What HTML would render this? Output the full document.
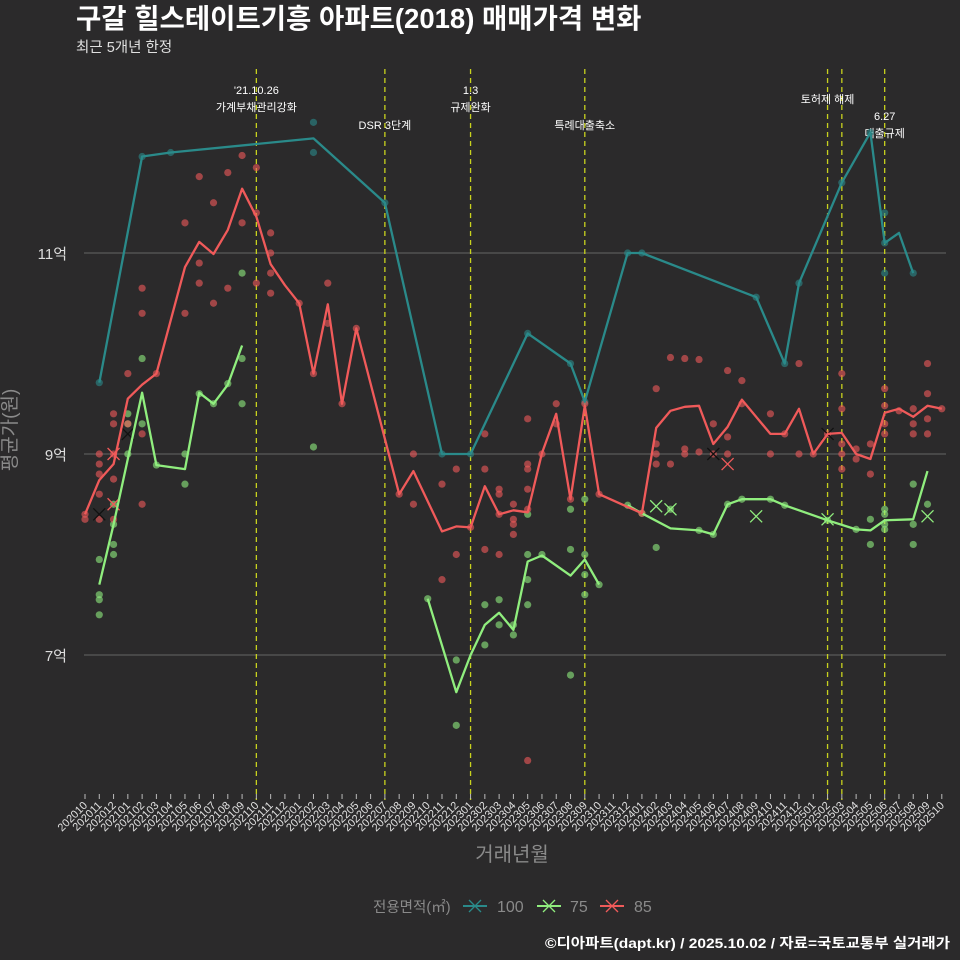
<!DOCTYPE html>
<html><head><meta charset="utf-8"><style>
html,body{margin:0;padding:0;background:#2b2a2b;}
svg{display:block;font-family:"Liberation Sans","Noto Sans CJK KR",sans-serif;}
</style></head><body>
<svg id="chart" width="960" height="960" viewBox="0 0 960 960">
<rect x="0" y="0" width="960" height="960" fill="#2b2a2b"/>
<text x="76" y="28" font-size="27.5" font-weight="bold" fill="#ffffff">구갈 힐스테이트기흥 아파트(2018) 매매가격 변화</text>
<text x="76" y="52" font-size="14.5" fill="#e0e0e0">최근 5개년 한정</text>
<g id="grid"></g>
<g id="vlines"></g>
<g id="dots"></g>
<g id="lines"></g>
<g id="xaxis"></g>
<text x="16" y="430" font-size="19" fill="#8a8a8a" text-anchor="middle" transform="rotate(-90 16 430)">평균가(원)</text>
<text x="512" y="861" font-size="20" fill="#8a8a8a" text-anchor="middle">거래년월</text>
<g>
<text x="373" y="912" font-size="14.5" fill="#8a8a8a">전용면적(㎡)</text>
<g><line x1="463" y1="906" x2="487" y2="906" stroke="#2a8a8a" stroke-width="2"/><path d="M469 900 L481 912 M481 900 L469 912" stroke="#2a8a8a" stroke-width="1.3"/><text x="497" y="912" font-size="16" fill="#8a8a8a">100</text></g>
<g><line x1="537" y1="906" x2="561" y2="906" stroke="#90ee7e" stroke-width="2"/><path d="M543 900 L555 912 M555 900 L543 912" stroke="#90ee7e" stroke-width="1.3"/><text x="570" y="912" font-size="16" fill="#8a8a8a">75</text></g>
<g><line x1="600" y1="906" x2="624" y2="906" stroke="#f05a5a" stroke-width="2"/><path d="M606 900 L618 912 M618 900 L606 912" stroke="#f05a5a" stroke-width="1.3"/><text x="634" y="912" font-size="16" fill="#8a8a8a">85</text></g>
</g>
<text x="950" y="948" font-size="14" font-weight="bold" fill="#ffffff" text-anchor="end" textLength="405" lengthAdjust="spacingAndGlyphs">©디아파트(dapt.kr) / 2025.10.02 / 자료=국토교통부 실거래가</text>
</svg>
<script>
const months = [];
for (let k = 0; k <= 60; k++) { const m = (9 + k) % 12 + 1; const y = 2020 + Math.floor((9 + k) / 12); months.push(y + (m < 10 ? '0' : '') + m); }
const yTicks = [7, 9, 11];
const yTickLabels = ['7억', '9억', '11억'];
const idx100 = [1,4,6,16,21,25,27,31,34,35,38,39,47,49,50,53,55,56,57,58];
const val100 = [9.71,11.96,12.0,12.14,11.5,9.0,9.0,10.2,9.9,9.52,11.0,11.0,10.56,9.9,10.7,11.7,12.2,11.1,11.2,10.8];
const idx75a = [1,2,3,4,5,7,8,9,10,11];
const val75a = [7.7,8.3,8.95,9.61,8.89,8.85,9.61,9.5,9.69,10.08];
const idx75b = [24,26,27,28,29,30,31,32,34,35,36];
const val75b = [7.56,6.63,7.0,7.3,7.42,7.25,7.93,7.99,7.79,7.95,7.7];
const idx75c = [38,39,41,43,44,45,46,48,49,52,54,55,56,58,59];
const val75c = [8.49,8.41,8.26,8.24,8.2,8.5,8.55,8.55,8.49,8.34,8.25,8.24,8.34,8.35,8.83];
const idx85 = [0,1,2,3,4,5,7,8,9,10,11,12,13,14,15,16,17,18,19,22,23,25,26,27,28,29,30,31,32,33,34,35,36,39,40,41,42,43,44,45,46,48,49,50,51,52,53,54,55,56,57,58,59,60];
const val85 = [8.4,8.74,8.9,9.55,9.69,9.8,10.86,11.11,10.99,11.23,11.64,11.36,10.89,10.68,10.5,9.8,10.49,9.5,10.25,8.6,8.83,8.23,8.28,8.27,8.68,8.4,8.44,8.42,9.01,9.4,8.55,9.48,8.6,8.41,9.26,9.43,9.47,9.48,9.1,9.27,9.54,9.2,9.2,9.45,9.0,9.2,9.21,9.0,8.95,9.41,9.45,9.37,9.48,9.45];
const dotIdx100 = [1,4,6,16,16,21,25,27,31,34,35,38,39,47,49,50,53,55,56,56,56,58];
const dotVal100 = [9.71,11.96,12.0,12.3,12.0,11.5,9.0,9.0,10.2,9.9,9.52,11.0,11.0,10.56,9.9,10.7,11.7,12.2,11.4,11.1,10.8,10.8];
const dotIdx75 = [1,1,1,1,2,2,2,2,3,3,3,4,4,5,7,7,8,9,10,11,11,11,16,24,26,26,28,28,29,29,30,30,31,31,31,31,32,34,34,34,35,35,35,35,36,38,39,40,41,43,44,45,46,48,49,52,54,55,55,56,56,56,56,58,58,58,59];
const dotVal75 = [7.95,7.6,7.55,7.4,8.3,8.1,8.0,8.5,9.4,9.3,9.0,9.95,9.3,8.89,9.0,8.7,9.6,9.5,9.7,10.8,9.95,9.5,9.07,7.56,6.95,6.3,7.5,7.1,7.55,7.3,7.3,7.2,8.4,8.0,7.75,7.5,8.0,8.05,8.45,6.8,8.55,8.0,7.8,7.6,7.7,8.49,8.41,8.07,8.45,8.24,8.2,8.5,8.55,8.55,8.49,8.34,8.25,8.35,8.1,8.45,8.4,8.3,8.25,8.7,8.3,8.1,8.5];
const dotIdx85 = [0,0,1,1,1,1,1,2,2,2,2,2,3,3,4,4,4,4,5,7,7,8,8,8,9,9,10,10,11,11,12,12,12,13,13,13,13,15,16,17,17,18,19,22,23,23,25,25,26,26,27,28,28,28,29,29,29,29,30,30,30,30,31,31,31,31,31,31,32,33,33,34,35,36,39,40,40,40,40,41,41,42,42,42,43,43,44,44,45,45,45,46,46,48,48,49,50,50,51,52,53,53,53,53,53,54,54,55,55,56,56,56,56,57,58,58,58,59,59,59,59,60];
const dotVal85 = [8.35,8.4,9.0,8.9,8.8,8.6,8.35,9.4,9.3,9.0,8.75,8.35,9.8,9.3,10.65,10.4,9.2,8.5,9.8,11.3,10.4,11.76,10.9,10.7,11.5,10.5,11.8,10.65,11.97,11.3,11.85,11.4,10.7,11.2,11.0,10.8,10.6,10.5,9.8,10.7,10.3,9.5,10.25,8.6,9.0,8.5,8.7,7.75,8.85,8.0,8.27,9.2,8.85,8.05,8.65,8.6,8.4,8.0,8.5,8.35,8.3,8.2,9.35,8.9,8.85,8.65,8.45,5.95,9.0,9.5,9.3,8.55,9.5,8.6,8.41,9.65,9.1,9.0,8.9,9.96,8.9,9.95,9.05,9.0,9.94,9.02,9.3,9.0,9.83,9.17,9.0,9.73,9.5,9.4,9.0,9.2,9.9,9.0,9.0,9.2,9.8,9.45,9.1,9.0,8.85,9.05,8.95,9.1,8.8,9.65,9.48,9.3,9.2,9.43,9.45,9.3,9.2,9.9,9.6,9.35,9.2,9.45];
const crossIdx = [1,2,2,3,40,41,44,45,47,52,52,59];
const crossVal = [8.4,9.0,8.5,9.2,8.48,8.45,9.0,8.9,8.38,9.2,8.35,8.38];
const crossSeries = ['85','85','85','85','75','75','85','85','75','85','75','75'];
const policyIdx = [12,21,27,35,52,53,56];
const notes = [[12,["'21.10.26","가계부채관리강화"],94],[21,["DSR 3단계"],129],[27,["1.3","규제완화"],94],[35,["특례대출축소"],129],[52,["토허제 해제"],103],[56,["6.27","대출규제"],120]];

const NS = 'http://www.w3.org/2000/svg';
const X0 = 85, XS = 14.28, Y9 = 454, YS = 100.5, TOP = 65, BOT = 790, LEFT = 84, RIGHT = 946;
function xs(i){ return X0 + i * XS; }
function ys(v){ return Y9 - (v - 9) * YS; }
function mk(tag, attrs, parent){ const e = document.createElementNS(NS, tag); for (const k in attrs) e.setAttribute(k, attrs[k]); parent.appendChild(e); return e; }
const colors = {'100':'#2a8a8a','75':'#90ee7e','85':'#f05a5a'};

const grid = document.getElementById('grid');
yTicks.forEach((v, k) => {
  const l = mk('line', {x1: LEFT, x2: RIGHT, y1: ys(v), y2: ys(v), stroke: '#666666', 'stroke-width': 1}, grid);
  
  
  const t = mk('text', {x: 67, y: ys(v) + 6, 'font-size': 15, fill: '#dddddd', 'text-anchor': 'end'}, grid);
  t.textContent = yTickLabels[k];
  
  
});

const vg = document.getElementById('vlines');
policyIdx.forEach(i => {
  const l = mk('line', {x1: xs(i), x2: xs(i), y1: TOP + 4, y2: 800, stroke: '#c8d21e', 'stroke-width': 1.3, 'stroke-dasharray': '5,4'}, vg);
  
  
});
notes.forEach(n => {
  n[1].forEach((s, k) => {
    const t = mk('text', {x: xs(n[0]), y: n[2] + k * 17, 'font-size': 11, fill: '#ffffff', 'text-anchor': 'middle'}, vg);
    t.textContent = s;
    
    
  });
});

const dg = document.getElementById('dots');
function dots(idx, val, ser){
  idx.forEach((i, k) => {
    const c = mk('circle', {cx: xs(i), cy: ys(val[k]), r: 3.6, fill: colors[ser], 'fill-opacity': 0.6}, dg);
    
    
  });
}
dots(dotIdx100, dotVal100, '100');
dots(dotIdx75, dotVal75, '75');
dots(dotIdx85, dotVal85, '85');
crossIdx.forEach((i, k) => {
  const x = xs(i), y = ys(crossVal[k]);
  const p = mk('path', {d: `M${x-6} ${y-6} L${x+6} ${y+6} M${x+6} ${y-6} L${x-6} ${y+6}`, stroke: (k % 3 === 0 ? '#111111' : colors[crossSeries[k]]), 'stroke-width': 1.3}, dg);
  
  
});

const lg = document.getElementById('lines');
function line(idx, val, ser){
  const d = idx.map((i, k) => (k ? 'L' : 'M') + xs(i).toFixed(1) + ' ' + ys(val[k]).toFixed(1)).join(' ');
  const p = mk('path', {d: d, fill: 'none', stroke: colors[ser], 'stroke-width': 2.3, 'stroke-linejoin': 'round'}, lg);
  
  
}
line(idx100, val100, '100');
line(idx75a, val75a, '75');
line(idx75b, val75b, '75');
line(idx75c, val75c, '75');
line(idx85, val85, '85');

const xg = document.getElementById('xaxis');
months.forEach((m, i) => {
  const x = xs(i);
  const tk = mk('line', {x1: x, x2: x, y1: 794, y2: 799, stroke: '#bbbbbb', 'stroke-width': 1}, xg);
  
  
  const t = mk('text', {x: x + 3, y: 806, 'font-size': 11, fill: '#e0e0e0', 'text-anchor': 'end', transform: `rotate(-45 ${x+3} 806)`}, xg);
  t.textContent = m;
  
  
});
</script>
</body></html>
